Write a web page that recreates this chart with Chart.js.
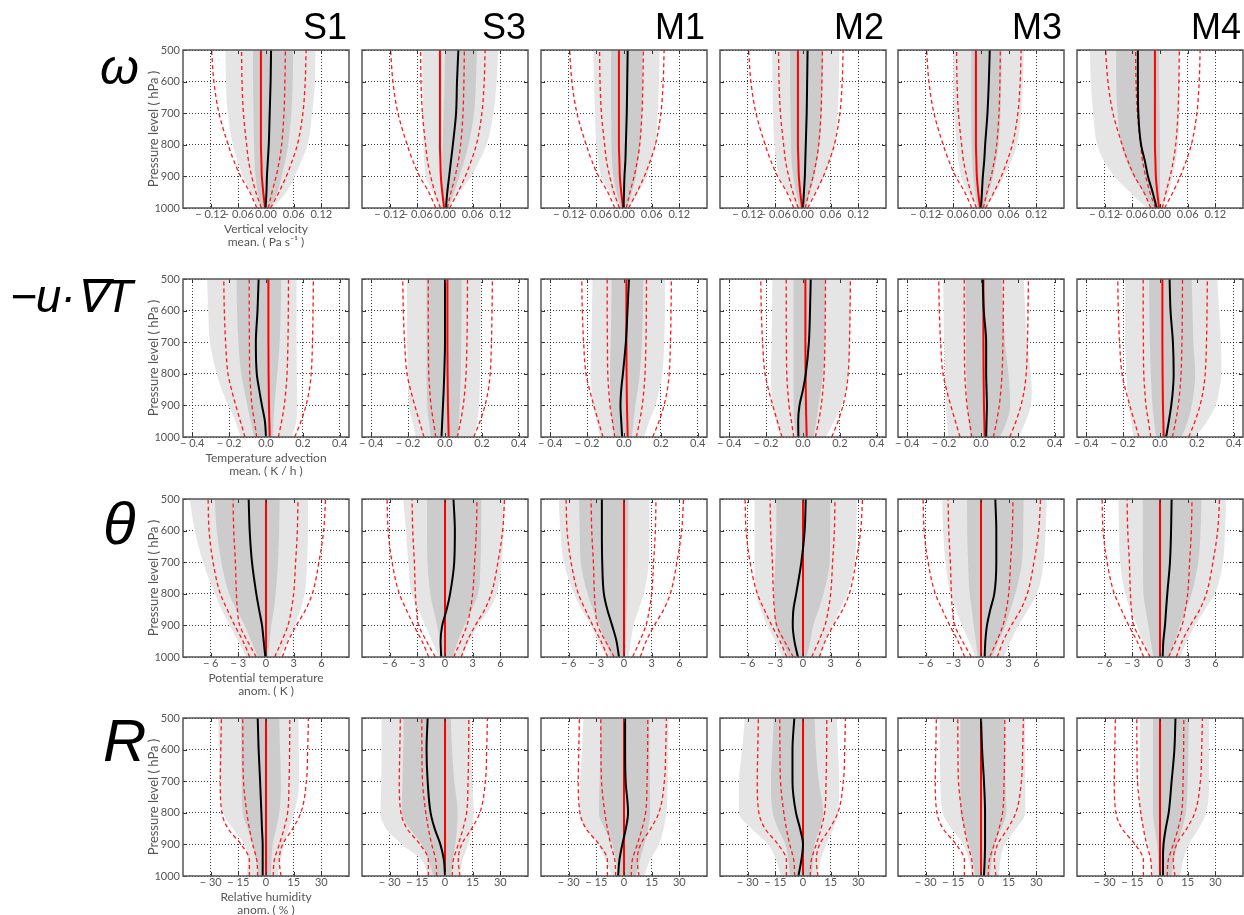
<!DOCTYPE html>
<html>
<head>
<meta charset="utf-8">
<script src="https://cdn.jsdelivr.net/npm/chart.js@4.4.0/dist/chart.umd.min.js"></script>
<style>
  body { margin: 0; background: #fff; width: 1244px; height: 915px; position: relative; overflow: hidden; }
  canvas { position: absolute; }
  .col { position: absolute; font-family: 'Liberation Sans', Arial, sans-serif; font-size: 36px; line-height: 1; text-align: right; color: #000; }
  .row { position: absolute; font-family: 'Liberation Sans', Arial, sans-serif; font-style: italic; line-height: 1; color: #000; white-space: nowrap; }
</style>
</head>
<body>
<script>
// pressure levels (hPa), bottom to top
const levels = [1000, 950, 900, 850, 800, 700, 600, 500];
const pressureTicks = [500, 600, 700, 800, 900, 1000];
const panelNames = ['S1', 'S3', 'M1', 'M2', 'M3', 'M4'];

// ---- vertical velocity (Pa/s), one array per panel S1 S3 M1 M2 M3 M4
const omegaLightLo = [
  [-0.019, -0.033, -0.05, -0.062, -0.072, -0.083, -0.087, -0.088],
  [-0.013, -0.027, -0.042, -0.045, -0.047, -0.048, -0.049, -0.049],
  [-0.012, -0.031, -0.049, -0.056, -0.06, -0.063, -0.065, -0.067],
  [-0.013, -0.033, -0.052, -0.058, -0.062, -0.065, -0.066, -0.067],
  [-0.011, -0.029, -0.043, -0.049, -0.053, -0.058, -0.06, -0.06],
  [-0.028, -0.065, -0.099, -0.122, -0.136, -0.145, -0.15, -0.152]];
const omegaLightHi = [
  [0.013, 0.044, 0.062, 0.077, 0.09, 0.1, 0.106, 0.107],
  [0.007, 0.031, 0.056, 0.075, 0.09, 0.105, 0.112, 0.115],
  [0.012, 0.031, 0.049, 0.06, 0.068, 0.073, 0.076, 0.077],
  [0.007, 0.027, 0.046, 0.06, 0.069, 0.075, 0.078, 0.079],
  [0.011, 0.031, 0.05, 0.066, 0.078, 0.087, 0.091, 0.093],
  [0.005, 0.019, 0.027, 0.034, 0.039, 0.042, 0.042, 0.042]];
const omegaDarkLo = [
  [-0.012, -0.018, -0.023, -0.025, -0.026, -0.027, -0.028, -0.028],
  [-0.003, -0.005, -0.006, -0.006, -0.005, -0.003, -0.001, 0.0],
  [-0.007, -0.016, -0.023, -0.026, -0.027, -0.028, -0.028, -0.028],
  [-0.006, -0.015, -0.021, -0.025, -0.026, -0.027, -0.028, -0.028],
  [-0.007, -0.013, -0.017, -0.019, -0.02, -0.021, -0.021, -0.021],
  [-0.017, -0.036, -0.058, -0.073, -0.084, -0.092, -0.095, -0.095]];
const omegaDarkHi = [
  [0.009, 0.025, 0.034, 0.042, 0.048, 0.055, 0.058, 0.059],
  [0.007, 0.02, 0.031, 0.042, 0.051, 0.063, 0.067, 0.069],
  [0.006, 0.017, 0.026, 0.031, 0.035, 0.038, 0.04, 0.04],
  [0.004, 0.015, 0.024, 0.031, 0.036, 0.04, 0.042, 0.043],
  [0.006, 0.017, 0.026, 0.033, 0.038, 0.042, 0.044, 0.045],
  [-0.001, 0.0, 0.0, 0.0, 0.0, -0.001, -0.002, -0.002]];
const omegaMean = [
  [-0.001, 0.001, 0.002, 0.004, 0.006, 0.008, 0.01, 0.011],
  [0.002, 0.005, 0.009, 0.013, 0.017, 0.024, 0.026, 0.029],
  [-0.001, 0.0, 0.001, 0.003, 0.004, 0.006, 0.007, 0.008],
  [0.0, 0.002, 0.004, 0.005, 0.006, 0.008, 0.009, 0.01],
  [0.0, 0.002, 0.004, 0.007, 0.009, 0.014, 0.017, 0.019],
  [-0.007, -0.016, -0.026, -0.033, -0.041, -0.047, -0.048, -0.048]];
const omegaRef = [-0.002, -0.006, -0.009, -0.01, -0.011, -0.011, -0.011, -0.011];
const omegaRefP10 = [-0.02, -0.035, -0.055, -0.07, -0.082, -0.102, -0.113, -0.118];
const omegaRefP25 = [-0.01, -0.022, -0.031, -0.038, -0.042, -0.049, -0.052, -0.053];
const omegaRefP75 = [0.005, 0.013, 0.022, 0.029, 0.034, 0.039, 0.041, 0.042];
const omegaRefP90 = [0.01, 0.028, 0.044, 0.057, 0.068, 0.08, 0.085, 0.087];
const omegaTicks = [-0.12, -0.06, 0, 0.06, 0.12];
const omegaTickLabels = ['\u2212 0.12', '\u2212 0.06', '0.00', '0.06', '0.12'];
const omegaTitle = ['Vertical velocity', 'mean. ( Pa s\u207B\u00B9 )'];

// ---- temperature advection (K/h)
const advLightLo = [
  [-0.138, -0.166, -0.203, -0.24, -0.267, -0.304, -0.313, -0.319],
  [-0.158, -0.177, -0.196, -0.2, -0.202, -0.205, -0.206, -0.206],
  [-0.13, -0.149, -0.168, -0.176, -0.181, -0.177, -0.174, -0.171],
  [-0.123, -0.147, -0.166, -0.171, -0.174, -0.17, -0.168, -0.166],
  [-0.177, -0.185, -0.191, -0.194, -0.197, -0.2, -0.203, -0.205],
  [-0.143, -0.157, -0.17, -0.177, -0.183, -0.189, -0.189, -0.189]];
const advLightHi = [
  [0.138, 0.165, 0.169, 0.168, 0.167, 0.166, 0.166, 0.166],
  [0.156, 0.175, 0.185, 0.188, 0.19, 0.192, 0.193, 0.194],
  [0.109, 0.137, 0.17, 0.192, 0.208, 0.218, 0.222, 0.223],
  [0.123, 0.17, 0.208, 0.23, 0.245, 0.255, 0.258, 0.26],
  [0.204, 0.242, 0.27, 0.275, 0.27, 0.251, 0.24, 0.232],
  [0.191, 0.255, 0.302, 0.322, 0.333, 0.33, 0.32, 0.311]];
const advDarkLo = [
  [-0.064, -0.083, -0.101, -0.118, -0.134, -0.15, -0.157, -0.16],
  [-0.076, -0.088, -0.097, -0.099, -0.1, -0.1, -0.1, -0.1],
  [-0.053, -0.065, -0.072, -0.075, -0.076, -0.072, -0.069, -0.067],
  [-0.038, -0.048, -0.051, -0.051, -0.051, -0.051, -0.051, -0.051],
  [-0.056, -0.066, -0.074, -0.077, -0.08, -0.082, -0.083, -0.084],
  [-0.022, -0.032, -0.041, -0.046, -0.05, -0.055, -0.058, -0.059]];
const advDarkHi = [
  [0.037, 0.041, 0.046, 0.053, 0.061, 0.074, 0.08, 0.083],
  [0.07, 0.076, 0.08, 0.083, 0.086, 0.088, 0.09, 0.09],
  [0.042, 0.052, 0.061, 0.075, 0.086, 0.097, 0.102, 0.105],
  [0.057, 0.072, 0.085, 0.098, 0.109, 0.117, 0.12, 0.123],
  [0.102, 0.14, 0.158, 0.156, 0.149, 0.13, 0.12, 0.112],
  [0.117, 0.15, 0.172, 0.185, 0.191, 0.181, 0.176, 0.172]];
const advMean = [
  [0.0, -0.006, -0.022, -0.037, -0.05, -0.055, -0.046, -0.04],
  [-0.019, -0.015, -0.011, -0.007, -0.004, 0.0, 0.0, 0.0],
  [-0.01, -0.015, -0.019, -0.015, -0.006, 0.01, 0.019, 0.027],
  [-0.025, -0.026, -0.019, 0.0, 0.015, 0.032, 0.038, 0.042],
  [0.028, 0.03, 0.032, 0.03, 0.028, 0.028, 0.015, 0.009],
  [0.033, 0.048, 0.061, 0.07, 0.074, 0.07, 0.057, 0.052]];
const advRef = [0.02, 0.018, 0.016, 0.015, 0.014, 0.013, 0.013, 0.013];
const advRefP10 = [-0.114, -0.139, -0.164, -0.187, -0.206, -0.219, -0.226, -0.229];
const advRefP25 = [-0.05, -0.063, -0.076, -0.083, -0.088, -0.09, -0.091, -0.091];
const advRefP75 = [0.067, 0.085, 0.099, 0.108, 0.114, 0.119, 0.121, 0.122];
const advRefP90 = [0.156, 0.19, 0.217, 0.235, 0.245, 0.252, 0.255, 0.257];
const advTicks = [-0.4, -0.2, 0, 0.2, 0.4];
const advTickLabels = ['\u2212 0.4', '\u2212 0.2', '0.0', '0.2', '0.4'];
const advTitle = ['Temperature advection', 'mean. ( K / h )'];

// ---- potential temperature anomaly (K)
const thetaLightLo = [
  [-2.13, -3.0, -3.93, -4.8, -5.56, -6.82, -7.73, -8.27],
  [-0.66, -1.4, -2.14, -2.9, -3.62, -3.99, -4.24, -4.54],
  [-1.92, -2.8, -3.58, -4.6, -5.42, -6.53, -6.9, -7.08],
  [-2.22, -3.0, -3.89, -4.6, -5.1, -5.26, -5.26, -5.26],
  [-0.61, -1.3, -2.06, -2.7, -3.32, -3.86, -4.1, -4.22],
  [-1.26, -1.9, -2.52, -3.2, -3.78, -4.32, -4.45, -4.5]];
const thetaLightHi = [
  [1.48, 2.3, 3.1, 3.75, 4.19, 4.45, 4.55, 4.55],
  [1.73, 2.6, 3.58, 4.8, 5.61, 6.16, 6.35, 6.53],
  [0.48, 0.75, 1.03, 1.6, 2.14, 2.69, 2.75, 2.77],
  [1.85, 2.4, 3.15, 4.0, 4.81, 5.6, 5.8, 5.85],
  [2.45, 3.2, 4.08, 5.1, 6.06, 6.79, 7.0, 7.15],
  [2.16, 2.9, 3.78, 4.9, 5.94, 6.83, 7.05, 7.19]];
const thetaDarkLo = [
  [-0.87, -1.6, -2.31, -3.2, -4.0, -4.84, -5.35, -5.56],
  [-0.3, -0.55, -0.85, -1.25, -1.59, -1.9, -1.95, -1.96],
  [-1.37, -2.0, -2.66, -3.35, -3.95, -4.69, -4.8, -4.87],
  [-1.55, -2.3, -2.96, -3.1, -3.15, -3.0, -2.9, -2.89],
  [-0.36, -0.55, -0.79, -1.0, -1.23, -1.4, -1.5, -1.52],
  [-0.72, -1.0, -1.26, -1.55, -1.8, -1.85, -1.87, -1.87]];
const thetaDarkHi = [
  [0.22, 0.4, 0.58, 0.85, 1.05, 1.3, 1.42, 1.48],
  [0.81, 1.4, 2.1, 2.9, 3.58, 3.85, 3.92, 3.95],
  [0.1, 0.16, 0.22, 0.3, 0.36, 0.42, 0.46, 0.48],
  [0.37, 0.8, 1.11, 1.7, 2.22, 2.9, 2.95, 2.96],
  [1.19, 1.9, 2.64, 3.2, 3.72, 4.44, 4.58, 4.62],
  [1.08, 1.6, 2.16, 2.8, 3.42, 4.14, 4.4, 4.5]];
const thetaMean = [
  [-0.07, -0.25, -0.43, -0.75, -1.05, -1.52, -1.77, -1.88],
  [-0.41, -0.48, -0.3, 0.18, 0.55, 1.0, 1.07, 0.92],
  [-0.55, -0.81, -1.29, -1.81, -2.18, -2.36, -2.4, -2.4],
  [-0.55, -0.93, -1.11, -1.04, -0.74, -0.18, 0.18, 0.3],
  [0.4, 0.47, 0.65, 1.01, 1.44, 1.66, 1.66, 1.55],
  [0.29, 0.36, 0.54, 0.66, 0.79, 1.08, 1.2, 1.26]];
const thetaRef = [0, 0, 0, 0, 0, 0, 0, 0];
const thetaRefP10 = [-1.77, -2.49, -3.39, -4.2, -4.95, -5.74, -6.17, -6.28];
const thetaRefP25 = [-1.05, -2.0, -2.85, -3.1, -3.21, -3.32, -3.5, -3.57];
const thetaRefP75 = [0.94, 1.7, 2.38, 2.75, 3.0, 3.21, 3.4, 3.47];
const thetaRefP90 = [1.77, 2.4, 3.29, 4.3, 5.02, 5.74, 6.25, 6.46];
const thetaTicks = [-6, -3, 0, 3, 6];
const thetaTickLabels = ['\u2212 6', '\u2212 3', '0', '3', '6'];
const thetaTitle = ['Potential temperature', 'anom. ( K )'];

// ---- relative humidity anomaly (%)
const rhLightLo = [
  [-10.4, -9.9, -11.7, -18.0, -23.3, -25.0, -25.5, -26.0],
  [-9.4, -12.5, -23.4, -32.0, -35.0, -34.5, -34.4, -34.4],
  [-6.3, -10.0, -14.2, -21.0, -24.3, -23.7, -22.8, -22.0],
  [-12.0, -14.5, -18.9, -28.0, -34.7, -34.7, -33.0, -31.5],
  [-4.8, -6.5, -9.6, -16.0, -20.8, -22.0, -22.4, -22.4],
  [-3.8, -5.0, -6.3, -9.0, -10.9, -10.9, -10.9, -10.9]];
const rhLightHi = [
  [6.3, 8.0, 9.9, 12.5, 15.3, 18.0, 17.8, 17.6],
  [7.8, 9.5, 12.5, 14.5, 15.6, 14.8, 14.2, 14.0],
  [11.0, 14.0, 18.9, 21.5, 23.0, 23.7, 24.0, 24.3],
  [7.9, 9.5, 12.6, 16.5, 18.9, 19.6, 19.0, 18.3],
  [9.6, 10.5, 12.8, 19.0, 24.0, 24.0, 24.0, 24.0],
  [10.9, 12.5, 15.6, 21.0, 25.0, 26.6, 26.6, 26.6]];
const rhDarkLo = [
  [-4.0, -5.5, -7.2, -10.0, -12.6, -13.2, -13.4, -13.5],
  [-6.3, -9.0, -12.5, -19.0, -23.4, -23.0, -22.6, -22.5],
  [-3.2, -4.5, -6.3, -10.5, -13.6, -13.2, -12.8, -12.6],
  [-6.9, -8.0, -9.5, -13.5, -16.4, -17.4, -16.6, -15.8],
  [-3.2, -4.5, -6.4, -9.0, -11.2, -11.2, -11.2, -11.2],
  [-0.6, -1.0, -1.6, -2.8, -3.8, -3.8, -3.8, -3.8]];
const rhDarkHi = [
  [2.7, 3.0, 3.6, 5.5, 7.2, 8.1, 7.6, 7.2],
  [3.1, 4.3, 5.6, 6.5, 6.9, 5.0, 3.8, 3.1],
  [6.3, 8.5, 11.0, 13.0, 14.2, 14.0, 13.8, 13.6],
  [4.7, 5.5, 6.3, 9.0, 11.0, 8.5, 7.0, 6.3],
  [4.8, 5.8, 7.3, 11.0, 13.7, 13.2, 13.0, 12.8],
  [6.3, 7.5, 9.4, 12.0, 14.0, 15.0, 15.4, 15.6]];
const rhMean = [
  [-1.8, -1.8, -1.8, -2.2, -2.5, -3.2, -4.0, -4.5],
  [0.0, -0.6, -2.5, -5.6, -7.8, -9.4, -10.0, -9.4],
  [-3.2, -2.5, -0.9, 1.0, 2.2, 0.9, 0.6, 0.6],
  [-2.5, -0.9, 0.0, -1.6, -3.8, -5.7, -5.7, -4.7],
  [1.6, 2.0, 2.2, 2.2, 2.2, 1.6, 0.6, 0.0],
  [1.6, 1.6, 1.9, 3.1, 4.7, 6.3, 7.8, 8.4]];
const rhRef = [0, 0, 0, 0, 0, 0, 0, 0];
const rhRefP10 = [-9.0, -9.0, -13.5, -20.6, -23.9, -24.8, -24.5, -24.2];
const rhRefP25 = [-4.5, -5.0, -7.2, -9.0, -10.4, -12.2, -12.5, -12.6];
const rhRefP75 = [3.9, 4.5, 7.2, 9.8, 11.7, 12.5, 12.8, 12.9];
const rhRefP90 = [8.1, 7.2, 9.0, 14.5, 18.9, 21.9, 22.6, 23.0];
const rhTicks = [-30, -15, 0, 15, 30];
const rhTickLabels = ['\u2212 30', '\u2212 15', '0', '15', '30'];
const rhTitle = ['Relative humidity', 'anom. ( % )'];

const rows = [
  { symbol: '\u03C9', range: 0.18, ticks: omegaTicks, labels: omegaTickLabels, title: omegaTitle,
    lightLo: omegaLightLo, lightHi: omegaLightHi, darkLo: omegaDarkLo, darkHi: omegaDarkHi, mean: omegaMean,
    ref: omegaRef, refLines: [omegaRefP10, omegaRefP25, omegaRefP75, omegaRefP90] },
  { symbol: '\u2212u\u00B7\u2207T', range: 0.45, ticks: advTicks, labels: advTickLabels, title: advTitle,
    lightLo: advLightLo, lightHi: advLightHi, darkLo: advDarkLo, darkHi: advDarkHi, mean: advMean,
    ref: advRef, refLines: [advRefP10, advRefP25, advRefP75, advRefP90] },
  { symbol: '\u03B8', range: 9, ticks: thetaTicks, labels: thetaTickLabels, title: thetaTitle,
    lightLo: thetaLightLo, lightHi: thetaLightHi, darkLo: thetaDarkLo, darkHi: thetaDarkHi, mean: thetaMean,
    ref: thetaRef, refLines: [thetaRefP10, thetaRefP25, thetaRefP75, thetaRefP90] },
  { symbol: 'R', range: 45, ticks: rhTicks, labels: rhTickLabels, title: rhTitle,
    lightLo: rhLightLo, lightHi: rhLightHi, darkLo: rhDarkLo, darkHi: rhDarkHi, mean: rhMean,
    ref: rhRef, refLines: [rhRefP10, rhRefP25, rhRefP75, rhRefP90] },
];

// page layout
const colLeft = [183, 362, 541, 720, 898, 1077];
const rowTop = [50, 279, 499, 718];
const plotW = 166, plotH = 158;
const padL = 60, padT = 10, padR = 10, padB = 60;
const lightGrey = 'rgb(229,229,229)';
const darkGrey = 'rgb(204,204,204)';
const axisFont = { family: 'Lato', size: 11 };

function profile(values) {
  return values.map((v, i) => ({ x: v, y: levels[i] }));
}

function curve(values, color, width, dash) {
  return { data: profile(values), borderColor: color, borderWidth: width, borderDash: dash || [], fill: false };
}

function edge(values, color) {
  return { data: profile(values), borderWidth: 0, borderColor: 'rgba(0,0,0,0)',
           backgroundColor: color || 'rgba(0,0,0,0)', fill: color ? '+1' : false };
}

// box and inward tick marks, like the matplotlib frame
const framePlugin = {
  id: 'frame',
  afterDraw(chart) {
    const { ctx, chartArea: a, scales } = chart;
    ctx.save();
    ctx.strokeStyle = '#333';
    ctx.lineWidth = 1;
    ctx.beginPath();
    scales.x.ticks.forEach(t => {
      const px = Math.round(scales.x.getPixelForValue(t.value)) + 0.5;
      ctx.moveTo(px, a.top); ctx.lineTo(px, a.top + 4);
      ctx.moveTo(px, a.bottom); ctx.lineTo(px, a.bottom - 4);
    });
    scales.y.ticks.forEach(t => {
      const py = Math.round(scales.y.getPixelForValue(t.value)) + 0.5;
      ctx.moveTo(a.left, py); ctx.lineTo(a.left + 4, py);
      ctx.moveTo(a.right, py); ctx.lineTo(a.right - 4, py);
    });
    ctx.stroke();
    ctx.strokeStyle = '#555';
    ctx.lineWidth = 1.5;
    ctx.strokeRect(a.left, a.top, a.right - a.left, a.bottom - a.top);
    ctx.restore();
  }
};

function addText(cls, text, style) {
  const d = document.createElement('div');
  d.className = cls;
  d.textContent = text;
  Object.assign(d.style, style);
  document.body.appendChild(d);
}

rows.forEach((row, r) => {
  panelNames.forEach((name, c) => {
    const cv = document.createElement('canvas');
    const w = plotW + padL + padR, h = plotH + padT + padB;
    cv.width = w; cv.height = h;
    cv.style.left = (colLeft[c] - padL) + 'px';
    cv.style.top = (rowTop[r] - padT) + 'px';
    cv.style.width = w + 'px'; cv.style.height = h + 'px';
    document.body.appendChild(cv);

    const datasets = [
      curve(row.mean[c], '#000', 2),
      curve(row.ref, '#ff0000', 2),
      ...row.refLines.map(v => curve(v, '#ff1a1a', 1.3, [4, 3])),
      edge(row.darkLo[c], darkGrey),
      edge(row.darkHi[c]),
      edge(row.lightLo[c], lightGrey),
      edge(row.lightHi[c]),
    ];

    new Chart(cv.getContext('2d'), {
      type: 'line',
      data: { datasets: datasets },
      options: {
        indexAxis: 'y',
        responsive: false,
        animation: false,
        devicePixelRatio: 1,
        events: [],
        layout: { padding: { top: padT, right: padR, left: 0, bottom: 0 } },
        elements: { point: { radius: 0 }, line: { cubicInterpolationMode: 'monotone' } },
        plugins: { legend: { display: false }, tooltip: { enabled: false } },
        scales: {
          x: {
            type: 'linear', min: -row.range, max: row.range, z: 1,
            afterBuildTicks: s => { s.ticks = row.ticks.map(v => ({ value: v })); },
            afterFit: s => { s.height = padB; },
            ticks: { callback: (v, i) => row.labels[i], color: '#555', font: axisFont, padding: 0, maxRotation: 0, autoSkip: false },
            grid: { color: 'rgba(0,0,0,0.75)', lineWidth: 1, drawTicks: false },
            border: { display: false, dash: [1, 2] },
            title: { display: c === 0, text: row.title, color: '#555',
                     font: { family: 'Lato', size: 12, lineHeight: 1.1 }, padding: { top: 0, bottom: 19 } },
          },
          y: {
            type: 'linear', reverse: true, min: 500, max: 1000, z: 1,
            afterBuildTicks: s => { s.ticks = pressureTicks.map(v => ({ value: v })); },
            afterFit: s => { s.width = padL; },
            ticks: { display: c === 0, callback: v => String(v), color: '#555', font: axisFont, padding: 3 },
            grid: { color: 'rgba(0,0,0,0.75)', lineWidth: 1, drawTicks: false },
            border: { display: false, dash: [1, 2] },
            title: { display: c === 0, text: 'Pressure level ( hPa )', color: '#555',
                     font: { family: 'Lato', size: 13 }, padding: { top: 23, bottom: 0 } },
          },
        },
      },
      plugins: [framePlugin],
    });

    if (r === 0) {
      addText('col', name, { left: colLeft[c] + 'px', top: '9px', width: (plotW - 2) + 'px' });
    }
  });
});

// row symbols on the left
addText('row', rows[0].symbol, { left: '100px', top: '42px', fontSize: '50px' });
addText('row', rows[1].symbol, { left: '10px', top: '273px', fontSize: '46px', letterSpacing: '-1px' });
addText('row', rows[2].symbol, { left: '103px', top: '494px', fontSize: '60px' });
addText('row', rows[3].symbol, { left: '103px', top: '711px', fontSize: '60px' });
</script>
</body>
</html>
